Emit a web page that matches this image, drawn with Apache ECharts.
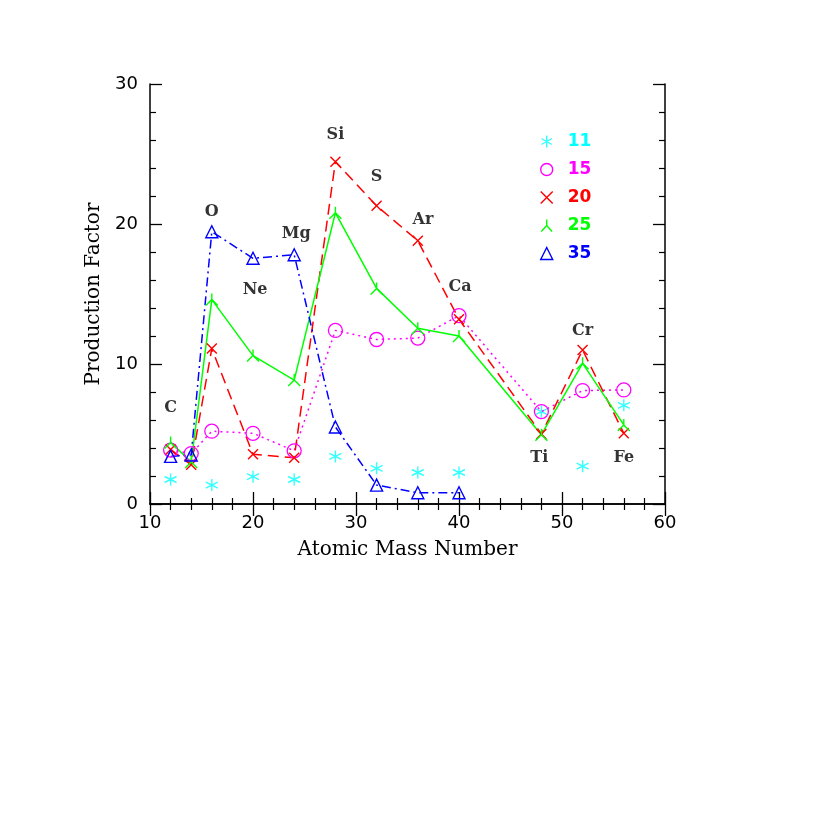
<!DOCTYPE html>
<html><head><meta charset="utf-8">
<script src="https://cdn.jsdelivr.net/npm/echarts@6/dist/echarts.min.js"></script>
<style>html,body{margin:0;padding:0;background:#fff}#c{width:817px;height:817px}</style>
</head><body><div id="c"></div>
<script>
// ---- data ----
const mass11 = [12, 16, 20, 24, 28, 32, 36, 40, 48, 52, 56];
const pf11   = [1.75, 1.35, 1.95, 1.75, 3.4, 2.55, 2.25, 2.25, 6.6, 2.7, 7.05];
const massAll = [12, 14, 16, 20, 24, 28, 32, 36, 40, 48, 52, 56];
const pf15   = [3.85, 3.6, 5.2, 5.05, 3.8, 12.4, 11.75, 11.85, 13.45, 6.6, 8.1, 8.15];
const pf20   = [3.9, 2.8, 11.1, 3.55, 3.3, 24.45, 21.3, 18.8, 13.2, 5.0, 11.0, 5.05];
const pf25   = [4.4, 3.0, 14.6, 10.6, 8.85, 20.8, 15.4, 12.55, 12.0, 4.95, 10.05, 5.65];
const mass35 = [12, 14, 16, 20, 24, 28, 32, 36, 40];
const pf35   = [3.4, 3.5, 19.45, 17.55, 17.8, 5.5, 1.35, 0.8, 0.8];
const seriesNames = ['11', '15', '20', '25', '35'];
const elementNames = ['C', 'O', 'Ne', 'Mg', 'Si', 'S', 'Ar', 'Ca', 'Ti', 'Cr', 'Fe'];
const elementLabelX = [12, 16, 20.2, 24.2, 28, 32, 36.5, 40.1, 47.8, 52, 56];
const elementLabelY = [6.85, 20.85, 15.3, 19.3, 26.35, 23.35, 20.3, 15.5, 3.3, 12.35, 3.3];
const xTicks = [10, 20, 30, 40, 50, 60];
const yTicks = [0, 10, 20, 30];

// ---- symbols ----
const SYM_AST = 'path://M5 0L5 10M0.67 2.5L9.33 7.5M0.67 7.5L9.33 2.5';
const SYM_X = 'path://M0 0L10 10M10 0L0 10';
const SYM_TRI = 'path://M5 0L10 10L0 10Z';
const SYM_Y = 'path://M5 5L5 0M5 5L0.5 10M5 5L9.5 10';
const SYM_CIRC = 'circle';
const colors = ['#00ffff', '#ff00ff', '#ff0000', '#00ff00', '#0000ff'];
const serif = '"DejaVu Serif", "Liberation Serif", serif';
const sans = '"DejaVu Sans", "Liberation Sans", sans-serif';

function zip(xs, ys) { return xs.map((x, i) => [x, ys[i]]); }
function mkItem(c, bw) { return { color: 'rgba(0,0,0,0)', borderColor: c, borderWidth: bw }; }

const chart = echarts.init(document.getElementById('c'), null, { renderer: 'canvas' });

const axisCommon = {
  axisLine: { show: true, lineStyle: { color: '#000', width: 1.5 } },
  axisTick: { show: true, inside: true, length: 12, lineStyle: { color: '#000', width: 1.3 } },
  minorTick: { show: true, splitNumber: 5, length: 6, lineStyle: { color: '#000', width: 1.2 } },
  splitLine: { show: false }
};

const option = {
  backgroundColor: '#fff',
  animation: false,
  grid: { left: 150, right: 152, top: 84, bottom: 313, containLabel: false },
  xAxis: [
    Object.assign({
      type: 'value', min: xTicks[0], max: xTicks[xTicks.length - 1], interval: 10, position: 'bottom',
      axisLabel: { color: '#000', fontFamily: sans, fontSize: 18, margin: 10 },
      name: 'Atomic Mass Number', nameLocation: 'middle', nameGap: 36,
      nameTextStyle: { color: '#000', fontFamily: serif, fontSize: 20 }
    }, axisCommon),
    Object.assign({
      type: 'value', min: xTicks[0], max: xTicks[xTicks.length - 1], interval: 10, position: 'top',
      axisLabel: { show: false }
    }, axisCommon)
  ],
  yAxis: [
    Object.assign({
      type: 'value', min: yTicks[0], max: yTicks[yTicks.length - 1], interval: 10, position: 'left',
      axisLabel: { color: '#000', fontFamily: sans, fontSize: 18, margin: 12 },
      name: 'Production Factor', nameLocation: 'middle', nameGap: 33, nameRotate: 90,
      nameTextStyle: { color: '#000', fontFamily: serif, fontSize: 20 }
    }, axisCommon),
    Object.assign({
      type: 'value', min: yTicks[0], max: yTicks[yTicks.length - 1], interval: 10, position: 'right',
      axisLabel: { show: false }
    }, axisCommon)
  ],
  legend: {
    orient: 'vertical', left: 535, top: 128, itemWidth: 12, itemHeight: 12, itemGap: 11,
    textStyle: { fontFamily: sans, fontSize: 17, fontWeight: 'bold', lineHeight: 16, padding: [0, 0, 0, 10] },
    data: seriesNames.map((n, i) => ({
      name: n,
      icon: [SYM_AST, SYM_CIRC, SYM_X, SYM_Y, SYM_TRI][i],
      itemStyle: mkItem(colors[i], 1.4),
      textStyle: { color: colors[i] }
    }))
  },
  series: [
    {
      name: seriesNames[0], type: 'scatter', data: zip(mass11, pf11),
      symbol: SYM_AST, symbolSize: 12, itemStyle: mkItem(colors[0], 1.4)
    },
    {
      name: seriesNames[1], type: 'line', data: zip(massAll, pf15),
      symbol: SYM_CIRC, symbolSize: 14, showAllSymbol: true,
      itemStyle: mkItem(colors[1], 1.3),
      lineStyle: { color: colors[1], width: 1.5, type: [2, 4] }
    },
    {
      name: seriesNames[2], type: 'line', data: zip(massAll, pf20),
      symbol: SYM_X, symbolSize: 10, showAllSymbol: true,
      itemStyle: mkItem(colors[2], 1.4),
      lineStyle: { color: colors[2], width: 1.5, type: [11, 6] }
    },
    {
      name: seriesNames[3], type: 'line', data: zip(massAll, pf25),
      symbol: SYM_Y, symbolSize: 12, showAllSymbol: true,
      itemStyle: mkItem(colors[3], 1.4),
      lineStyle: { color: colors[3], width: 1.5, type: 'solid' }
    },
    {
      name: seriesNames[4], type: 'line', data: zip(mass35, pf35),
      symbol: SYM_TRI, symbolSize: 12, showAllSymbol: true,
      itemStyle: mkItem(colors[4], 1.4),
      lineStyle: { color: colors[4], width: 1.5, type: [9, 4, 2, 4] }
    },
    {
      name: 'elements', type: 'scatter', symbol: 'circle', symbolSize: 1, silent: true,
      itemStyle: { color: 'rgba(0,0,0,0)' },
      data: elementNames.map((n, i) => ({ value: [elementLabelX[i], elementLabelY[i]], name: n })),
      label: {
        show: true, position: 'inside', formatter: p => p.name,
        color: '#000', textBorderWidth: 0, fontFamily: serif, fontSize: 16, fontWeight: 'bold'
      },
      z: 5
    }
  ]
};
chart.setOption(option);
</script>
</body></html>
